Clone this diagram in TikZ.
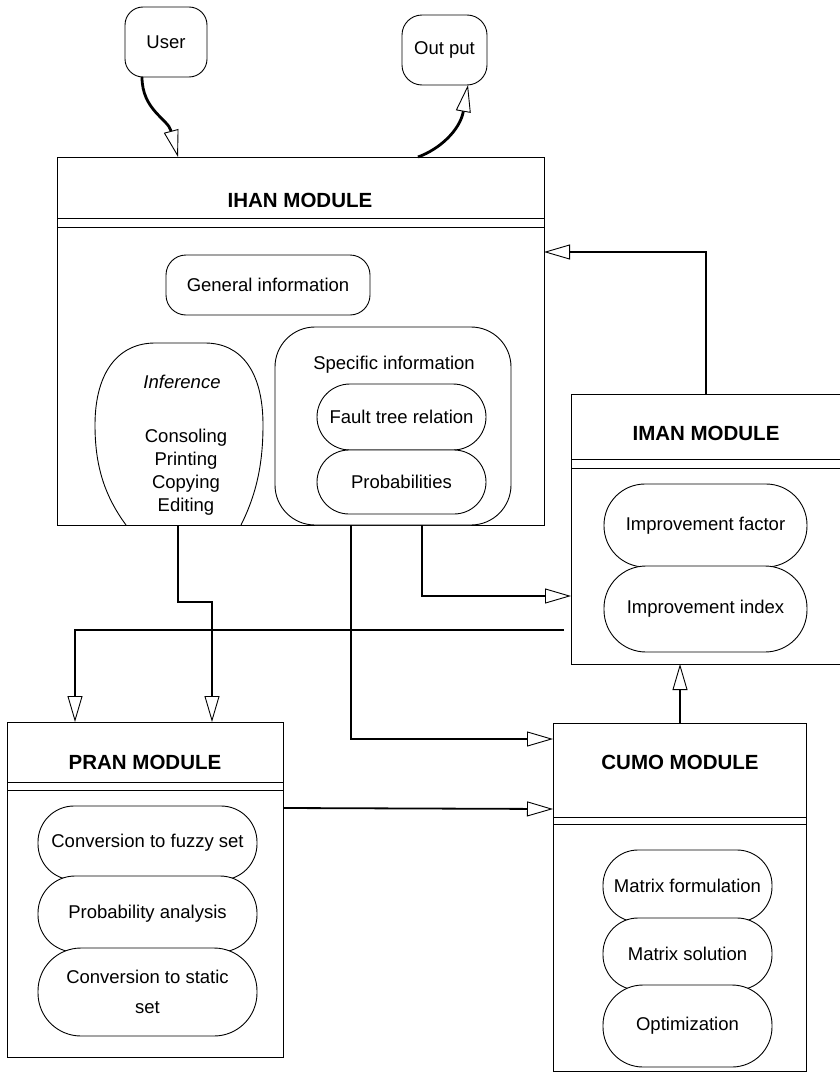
\documentclass[tikz,border=0pt]{standalone}
\usepackage{fontspec}
\setmainfont{Liberation Sans}
\usetikzlibrary{arrows.meta,calc}
\begin{document}
\begin{tikzpicture}[x=1pt,y=-1pt,
  box/.style={draw, line width=0.9pt, inner sep=0pt, outer sep=0pt, anchor=north west, fill=white},
  pill/.style={box, rounded corners=#1},
  txt/.style={inner sep=0pt, font=\fontsize{18.5}{23}\selectfont, align=center},
  modtitle/.style={inner sep=0pt, font=\fontsize{20.5}{24}\selectfont\bfseries},
  rule/.style={line width=0.9pt},
  flow/.style={line width=1.8pt},
  conn/.style={flow, -{Triangle[open,length=26pt,width=15pt,line width=0.9pt]}},
  curvy/.style={line width=2.8pt, -{Triangle[open,length=27pt,width=15pt,line width=0.9pt]}},
]
\useasboundingbox (0,0) rectangle (839,1076);

% outside world
\node[pill=18pt, minimum width=82pt, minimum height=70pt, txt] (user) at (125,7) {User};
\node[pill=20pt, minimum width=85pt, minimum height=70pt, txt] (output) at (402,15) {Out put};

% IHAN module
\node[box, minimum width=487pt, minimum height=368pt] (ihan) at (57,157) {};
\draw[rule] ($(ihan.north west)+(0,61)$) -- ($(ihan.north east)+(0,61)$)
            ($(ihan.north west)+(0,70)$) -- ($(ihan.north east)+(0,70)$);
\node[modtitle] (ihantitle) at (300,200) {IHAN MODULE};
\node[pill=20pt, minimum width=204pt, minimum height=60pt, txt] (general) at (166,255) {General information};
\draw[rule] (126,525) .. controls (104,495) and (95,465) .. (95,425)
  .. controls (95,370) and (120,343) .. (155,343) -- (205,343)
  .. controls (240,343) and (263,370) .. (263,425)
  .. controls (263,465) and (256,495) .. (241,525);
\node[txt, font=\fontsize{18.5}{23}\selectfont\itshape] (inftitle) at (182,382) {Inference};
\node[txt] (inflist) at (186,472) {Consoling\\Printing\\Copying\\Editing};
\node[pill=40pt, minimum width=236pt, minimum height=198pt] (specific) at (275,327) {};
\node[txt] (spectitle) at (394,365) {Specific information};
\node[pill=33pt, minimum width=169pt, minimum height=66pt, txt] (fault) at (317,384) {Fault tree relation};
\node[pill=32pt, minimum width=169pt, minimum height=64pt, txt] (probs) at (317,450) {Probabilities};

% IMAN module
\node[box, minimum width=272pt, minimum height=270pt] (iman) at (571,394) {};
\draw[rule] ($(iman.north west)+(0,65)$) -- ($(iman.north east)+(0,65)$)
            ($(iman.north west)+(0,74)$) -- ($(iman.north east)+(0,74)$);
\node[modtitle] (imantitle) at (706,433) {IMAN MODULE};
\node[pill=41pt, minimum width=203pt, minimum height=83pt, txt] (impf) at (604,484) {Improvement factor};
\node[pill=42pt, minimum width=203pt, minimum height=86pt, txt] (impi) at (604,566) {Improvement index};

% PRAN module
\node[box, minimum width=276pt, minimum height=335pt] (pran) at (7,722) {};
\draw[rule] ($(pran.north west)+(0,60)$) -- ($(pran.north east)+(0,60)$)
            ($(pran.north west)+(0,68)$) -- ($(pran.north east)+(0,68)$);
\node[modtitle] (prantitle) at (145,762) {PRAN MODULE};
\node[pill=36pt, minimum width=219pt, minimum height=74pt, txt] (fuzzy) at (38,806) {Conversion to fuzzy set};
\node[pill=37pt, minimum width=219pt, minimum height=76pt, txt] (panal) at (38,876) {Probability analysis};
\node[pill=43pt, minimum width=219pt, minimum height=88pt, txt, font=\fontsize{18.5}{30}\selectfont] (static) at (38,948) {Conversion to static\\set};

% CUMO module
\node[box, minimum width=253pt, minimum height=348pt] (cumo) at (553,723) {};
\draw[rule] ($(cumo.north west)+(0,94)$) -- ($(cumo.north east)+(0,94)$)
            ($(cumo.north west)+(0,101)$) -- ($(cumo.north east)+(0,101)$);
\node[modtitle] (cumotitle) at (680,762) {CUMO MODULE};
\node[pill=35pt, minimum width=169pt, minimum height=72pt, txt] (mform) at (603,850) {Matrix formulation};
\node[pill=35pt, minimum width=169pt, minimum height=72pt, txt] (msol) at (603,918) {Matrix solution};
\node[pill=40pt, minimum width=169pt, minimum height=82pt, txt] (optim) at (603,985) {Optimization};

% connectors
\draw[curvy] ($(user.south west)+(17,0)$) .. controls +(0,33) and +(-10,-38) .. ($(ihan.north west)+(121,0)$);
\draw[curvy] ($(ihan.north west)+(361,0)$) .. controls +(22,-8) and +(-8,45) .. ($(output.south west)+(66,0)$);
\draw[conn] ($(iman.north west)+(135,0)$) |- ($(ihan.north east)+(0,95)$);
\draw[conn] ($(ihan.south west)+(365,0)$) |- ($(iman.north west)+(0,202)$);
\draw[conn] ($(ihan.south west)+(121,0)$) -- ++(0,77) -| ($(pran.north west)+(205,0)$);
\draw[conn] ($(ihan.south west)+(294,0)$) |- ($(cumo.north west)+(0,16)$);
\draw[conn] ($(iman.north west)+(-7,236)$) -| ($(pran.north west)+(68,0)$);
\draw[conn] ($(pran.north east)+(0,86)$) -- ($(cumo.north west)+(0,86)$);
\draw[conn] ($(cumo.north west)+(127,0)$) -- ($(iman.south west)+(109,0)$);
\end{tikzpicture}
\end{document}
